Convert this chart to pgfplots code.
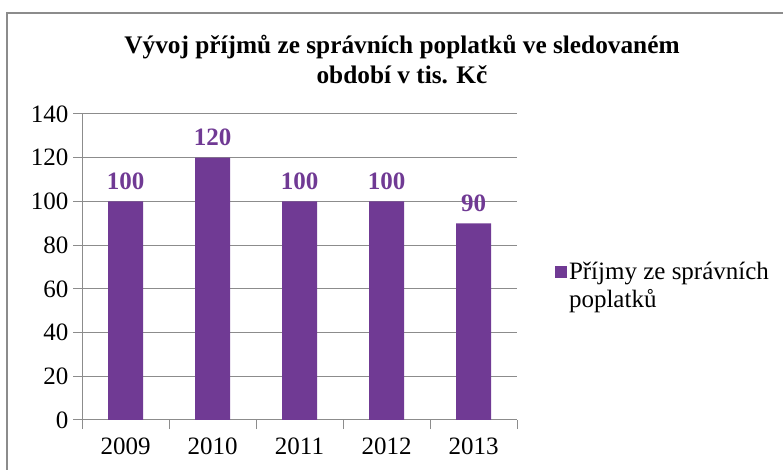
\documentclass[border=0pt]{standalone}
\usepackage{pgfplots}
\pgfplotsset{compat=1.18}
\usepackage{fontspec}
\setmainfont{Liberation Serif}
\definecolor{barpurple}{RGB}{112,58,148}
\definecolor{gridgray}{RGB}{140,140,140}
\begin{document}
\begin{tikzpicture}[x=1pt,y=1pt]
\useasboundingbox (0,0) rectangle (783,470);
\draw[gridgray, line width=1.2pt] (7,-5) -- (7,457) -- (795,457);
\node[font=\fontsize{25.3}{30}\selectfont\bfseries, align=center] at (402,410) {Vývoj příjmů ze správních poplatků ve sledovaném\\období v tis. Kč};
\begin{axis}[
  at={(82pt,50pt)}, anchor=south west,
  scale only axis, width=435pt, height=306pt,
  ymin=0, ymax=140, ytick={0,20,...,140},
  xmin=-0.5, xmax=4.5,
  xtick={0,1,2,3,4},
  xticklabels={2009,2010,2011,2012,2013},
  minor xtick={-0.5,0.5,...,4.5},
  axis lines=left,
  axis line style={-, gridgray, line width=1pt},
  ymajorgrids,
  grid style={gridgray, line width=1pt},
  tick align=outside,
  major tick length=9pt,
  minor tick length=9pt,
  major x tick style={draw=none},
  minor x tick style={gridgray, line width=1pt},
  major y tick style={gridgray, line width=1pt},
  tick label style={font=\fontsize{25}{28}\selectfont},
  /pgf/number format/assume math mode=true,
  xticklabel style={yshift=-5pt},
  yticklabel style={xshift=-1pt},
  ybar, bar width=35pt,
  nodes near coords,
  every node near coord/.append style={font=\fontsize{25}{28}\selectfont\bfseries, text=barpurple, yshift=8pt},
  legend style={draw=none, fill=none, at={(1.08,0.44)}, anchor=west, font=\fontsize{25}{28}\selectfont, cells={align=left}},
  legend image code/.code={\fill[barpurple] (0pt,7.5pt) rectangle (12pt,19.5pt);},
  clip=false,
]
\addplot[fill=barpurple, draw=none] coordinates {(0,100) (1,120) (2,100) (3,100) (4,90)};
\addlegendentry{Příjmy ze správních\\poplatků}
\end{axis}
\end{tikzpicture}
\end{document}
